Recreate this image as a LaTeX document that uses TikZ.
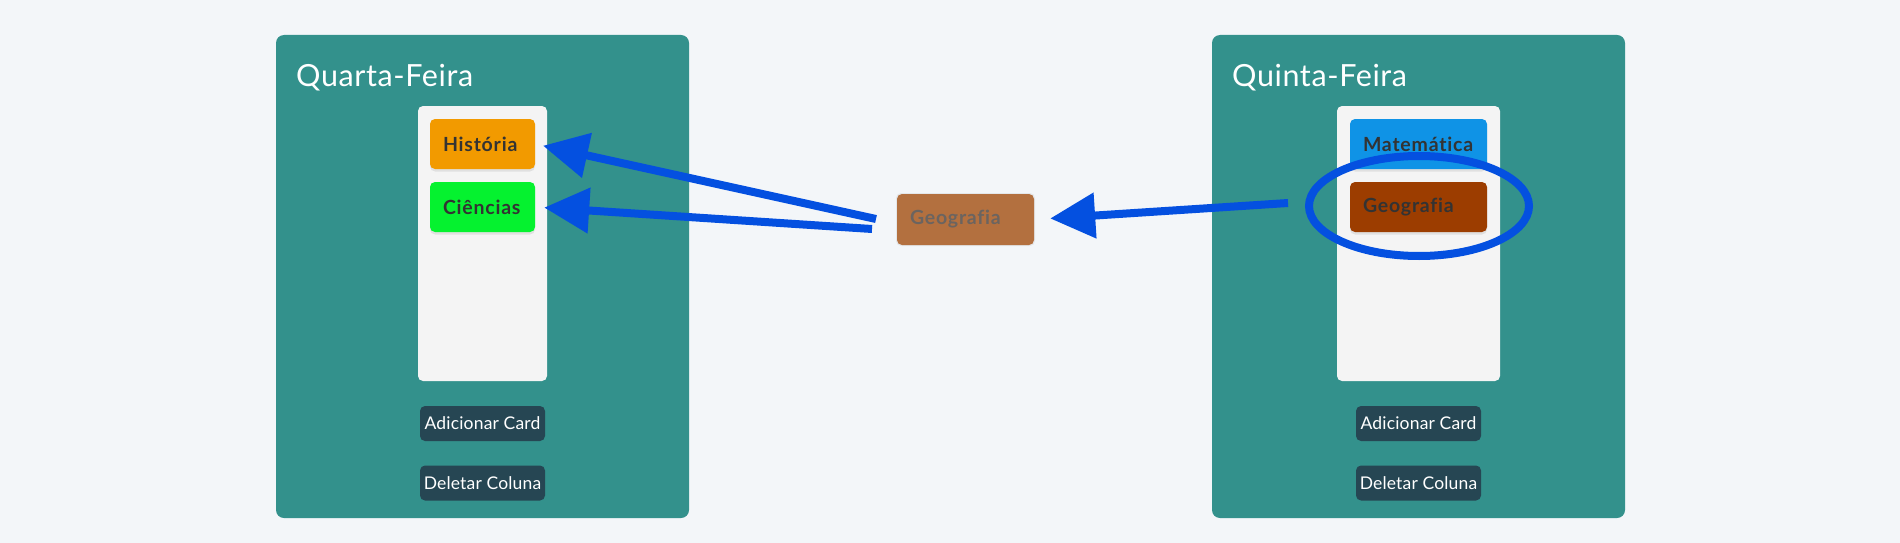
\documentclass[tikz,border=0pt]{standalone}
\usepackage{fontspec}
\setmainfont{Lato}[Ligatures=NoCommon]
\newfontfamily\titlefont{Lato}[Ligatures=NoCommon, LetterSpace=2]
\newfontfamily\cardfont{Lato}[Ligatures=NoCommon, LetterSpace=4, BoldFont={Lato Bold}]
\newfontfamily\btnfont{Lato}[Ligatures=NoCommon, LetterSpace=1]
\usetikzlibrary{arrows.meta}
\definecolor{bg}{HTML}{F3F6F9}
\definecolor{teal}{HTML}{33918C}
\definecolor{listbg}{HTML}{F4F4F4}
\definecolor{btn}{HTML}{264653}
\definecolor{hist}{HTML}{F29A00}
\definecolor{cien}{HTML}{05F22F}
\definecolor{mat}{HTML}{0F93E6}
\definecolor{geo}{HTML}{9C3D00}
\definecolor{geofl}{HTML}{B3703F}
\definecolor{cardtxt}{HTML}{333333}
\definecolor{floattxt}{HTML}{6B6460}
\definecolor{arrowblue}{HTML}{0450E0}
\tikzset{
  column/.style={fill=teal, rounded corners=8pt, minimum width=413pt, minimum height=483pt, inner sep=0pt},
  listbox/.style={fill=listbg, rounded corners=5pt, minimum height=275pt, inner sep=0pt},
  card/.style={rounded corners=5pt, minimum height=50pt, inner sep=0pt},
  cardshadow/.style={fill=black, opacity=0.08, rounded corners=5pt},
  cardtext/.style={anchor=west, inner sep=0pt, text=cardtxt, font=\cardfont\fontsize{19.5}{21}\selectfont\bfseries},
  title/.style={anchor=base west, inner sep=0pt, text=white, font=\titlefont\fontsize{30.5}{33}\selectfont},
  button/.style={fill=btn, rounded corners=5pt, minimum width=125pt, minimum height=35pt, inner sep=0pt,
    text=white, font=\btnfont\fontsize{17.5}{19}\selectfont},
  bluearrow/.style={draw=arrowblue, line width=8pt, -{Triangle[length=45pt,width=44pt]}},
}
\begin{document}
\begin{tikzpicture}[x=1pt,y=-1pt]
\fill[bg] (0,0) rectangle (1900,543);
\useasboundingbox (0,0) rectangle (1900,543);

% columns
\node[column] (colL) at (482.5,276.5) {};
\node[column] (colR) at (1418.5,276.5) {};
\node[title] (titleL) at (296,86) {Quarta-Feira};
\node[title] (titleR) at (1232,86) {Quinta-Feira};

% lists
\node[listbox, minimum width=129pt] (listL) at (482.5,243.5) {};
\node[listbox, minimum width=163pt] (listR) at (1418.5,243.5) {};

% card shadows
\fill[cardshadow] (430,121) rectangle (535,171.5);
\fill[cardshadow] (430,184) rectangle (535,234.5);
\fill[cardshadow] (1350,121) rectangle (1487,171.5);
\fill[cardshadow] (1350,184) rectangle (1487,234.5);

% cards
\node[card, fill=hist, minimum width=105pt] (cHist) at (482.5,144) {};
\node[cardtext] (tHist) at ([xshift=13pt]cHist.west) {História};
\node[card, fill=cien, minimum width=105pt] (cCien) at (482.5,207) {};
\node[cardtext] (tCien) at ([xshift=13pt]cCien.west) {Ciências};
\node[card, fill=mat, minimum width=137pt] (cMat) at (1418.5,144) {};
\node[cardtext] (tMat) at ([xshift=13pt]cMat.west) {Matemática};
\node[card, fill=geo, minimum width=137pt] (cGeo) at (1418.5,207) {};
\node[cardtext] (tGeo) at ([xshift=13pt]cGeo.west) {Geografia};

% floating card
\fill[black, opacity=0.06, rounded corners=5pt] (896,193) rectangle (1035,246);
\node[card, fill=geofl, minimum width=137pt, minimum height=51pt] (cFloat) at (965.5,219.5) {};
\node[cardtext, text=floattxt] (tFloat) at ([xshift=13pt]cFloat.west) {Geografia};

% buttons
\node[button] (addL) at (482.5,423.5) {Adicionar Card};
\node[button] (delL) at (482.5,483) {Deletar Coluna};
\node[button] (addR) at (1418.5,423.5) {Adicionar Card};
\node[button] (delR) at (1418.5,483) {Deletar Coluna};

% annotations
\draw[arrowblue, line width=8pt] (1419,206) ellipse [x radius=110pt, y radius=50pt];
\coordinate (sU) at (876,219);
\coordinate (sL) at (872,229);
\coordinate (sR) at (1288,203);
\draw[bluearrow, shorten >=8pt] (sU) -- (cHist.east);
\draw[bluearrow, shorten >=9pt] (sL) -- (cCien.east);
\draw[bluearrow, shorten >=16pt] (sR) -- (cFloat.east);
\end{tikzpicture}
\end{document}
